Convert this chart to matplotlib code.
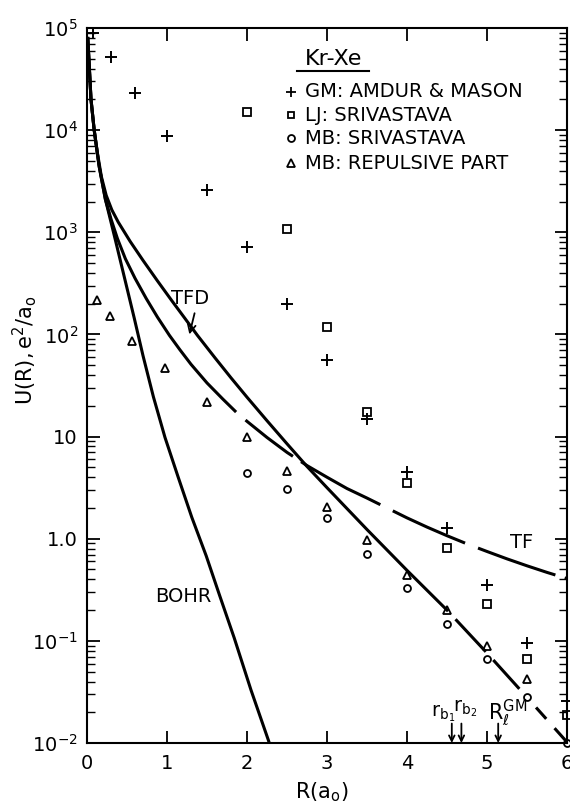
import numpy as np
import matplotlib.pyplot as plt
from matplotlib.ticker import FixedLocator, FixedFormatter, LogLocator, NullFormatter

plt.rcParams['font.family'] = ['DejaVu Sans']
plt.rcParams['mathtext.fontset'] = 'dejavusans'
plt.rcParams['lines.scale_dashes'] = False

# data points
r_gm = [0.08, 0.3, 0.6, 1.0, 1.5, 2.0, 2.5, 3.0, 3.5, 4.0, 4.5, 5.0, 5.5, 6.0]
u_gm = [8.9e4, 5.2e4, 2.3e4, 8.7e3, 2.6e3, 720, 200, 56, 15, 4.5, 1.26, 0.35, 0.096, 0.026]

r_lj = [2.0, 2.5, 3.0, 3.5, 4.0, 4.5, 5.0, 5.5, 6.0]
u_lj = [1.5e4, 1070, 118, 17.5, 3.5, 0.81, 0.23, 0.067, 0.019]

r_mb = [2.0, 2.5, 3.0, 3.5, 4.0, 4.5, 5.0, 5.5, 6.0]
u_mb = [4.4, 3.1, 1.6, 0.71, 0.33, 0.147, 0.066, 0.028, 0.0100]

r_rep = [0.12, 0.29, 0.56, 0.97, 1.5, 2.0, 2.5, 3.0, 3.5, 4.0, 4.5, 5.0, 5.5]
u_rep = [218, 150, 87, 47, 22, 10, 4.6, 2.05, 0.98, 0.44, 0.20, 0.089, 0.042]

# theoretical curves (read at points along each curve)
r_bohr = [0.01, 0.05, 0.09, 0.15, 0.23, 0.35, 0.47, 0.59, 0.70, 0.83, 0.975,
          1.14, 1.31, 1.49, 1.66, 1.84, 2.05, 2.27, 2.29]
u_bohr = [7.9e4, 2.0e4, 1.0e4, 4.5e3, 2.1e3, 870, 355, 145, 62, 24.5, 9.8,
          4.0, 1.62, 0.68, 0.275, 0.107, 0.033, 0.0105, 0.0093]

r_tf = np.array([0.01, 0.05, 0.09, 0.15, 0.23, 0.30, 0.38, 0.48, 0.60, 0.74,
                 0.88, 1.03, 1.16, 1.3, 1.5, 1.7, 1.85, 2.0, 2.25, 2.5,
                 2.75, 3.0, 3.25, 3.5, 3.75, 4.0, 4.25, 4.5, 4.75, 5.0,
                 5.25, 5.5, 5.75, 6.0])
u_tf = np.array([7.9e4, 2.0e4, 1.0e4, 4.5e3, 2.1e3, 1.35e3, 870, 550, 355, 225,
                 148, 98, 71, 51, 33.5, 23.2, 17.8, 14.1, 9.8, 7.0,
                 5.2, 4.0, 3.1, 2.5, 2.0, 1.6, 1.3, 1.07, 0.89, 0.75,
                 0.635, 0.543, 0.468, 0.407])

r_tfd = np.array([0.01, 0.05, 0.09, 0.13, 0.18, 0.24, 0.31, 0.39, 0.54, 0.70,
                  0.88, 1.06, 1.22, 1.38, 1.6, 1.8, 2.0, 2.25, 2.5, 2.75,
                  3.0, 3.5, 4.0, 4.5, 5.0, 5.5, 6.0])
u_tfd = np.array([7.9e4, 2.0e4, 1.0e4, 6.0e3, 3.5e3, 2.3e3, 1.66e3, 1.26e3, 813, 531,
                  335, 214, 145, 98, 59, 37.6, 24.3, 14.3, 8.5, 5.1,
                  3.16, 1.23, 0.49, 0.20, 0.076, 0.028, 0.0102])

# marked radii at the bottom axis
r_marks = [4.56, 4.68, 5.14]

y_ticks = [1e-2, 1e-1, 1, 10, 1e2, 1e3, 1e4, 1e5]
y_labels = [r'$\mathregular{10^{-2}}$', r'$\mathregular{10^{-1}}$', '1.0', '10',
            r'$\mathregular{10^{2}}$', r'$\mathregular{10^{3}}$',
            r'$\mathregular{10^{4}}$', r'$\mathregular{10^{5}}$']
x_ticks = [0, 1, 2, 3, 4, 5, 6]

fig = plt.figure(figsize=(5.7, 8.05), dpi=100)
ax = fig.add_axes([87 / 570, 62 / 805, 480 / 570, 715 / 805])

lw = 2.2
ax.plot(r_bohr, u_bohr, color='k', lw=lw)

# TF: solid at small R, long dashes beyond
tf_dash = (43, 7, 65, 10, 57, 10, 59, 7, 60, 10)
m = r_tf <= 1.85
ax.plot(r_tf[m], u_tf[m], color='k', lw=lw)
m = r_tf >= 1.85
ax.plot(r_tf[m], u_tf[m], color='k', lw=lw, linestyle=(sum(tf_dash) - 10, tf_dash))

# TFD: solid up to 4.5, dashed after
tfd_dash = (32, 8, 28, 18, 11, 9, 40, 9)
m = r_tfd <= 4.5
ax.plot(r_tfd[m], u_tfd[m], color='k', lw=lw)
m = r_tfd >= 4.5
ax.plot(r_tfd[m], u_tfd[m], color='k', lw=lw, linestyle=(sum(tfd_dash) - 9, tfd_dash))

mk = dict(color='k', linestyle='none', clip_on=False)
ax.plot(r_gm, u_gm, marker='+', ms=8, mew=1.4, **mk)
ax.plot(r_lj, u_lj, marker='s', ms=5.5, mew=1.3, mfc='none', **mk)
ax.plot(r_mb, u_mb, marker='o', ms=5, mew=1.3, mfc='none', **mk)
ax.plot(r_rep, u_rep, marker='^', ms=6, mew=1.3, mfc='none', **mk)

# legend block
ax.text(0.5135, 0.956, 'Kr-Xe', transform=ax.transAxes, ha='center', va='center',
        fontsize=16)
ax.plot([0.4375, 0.5875], [0.940, 0.940], transform=ax.transAxes, color='k', lw=1.5)
entries = [('+', 7, 'GM: AMDUR & MASON'),
           ('s', 4.5, 'LJ: SRIVASTAVA'),
           ('o', 5, 'MB: SRIVASTAVA'),
           ('^', 5.5, 'MB: REPULSIVE PART')]
rows = [0.9109, 0.8783, 0.8457, 0.8108]
for (mrk, ms, txt), yy in zip(entries, rows):
    ax.plot([0.426], [yy], marker=mrk, ms=ms, mew=1.3, mfc='none',
            color='k', linestyle='none', transform=ax.transAxes)
    ax.text(0.454, yy, txt, transform=ax.transAxes, ha='left', va='center',
            fontsize=14)

# curve labels
ax.annotate('TFD', xy=(1.28, 100), xytext=(1.29, 226), ha='center', va='center',
            fontsize=14,
            arrowprops=dict(arrowstyle='->', lw=1.3, color='k', relpos=(0.65, 0),
                            shrinkA=2, shrinkB=0))
ax.text(5.43, 0.91, 'TF', ha='center', va='center', fontsize=14)
ax.text(1.21, 0.27, 'BOHR', ha='center', va='center', fontsize=14)

# marked radii
for r in r_marks:
    ax.annotate('', xy=(r, 0.0100), xytext=(r, 0.0155),
                arrowprops=dict(arrowstyle='->', lw=1.3, color='k',
                                shrinkA=0, shrinkB=0, mutation_scale=10))
ax.text(4.60, 0.0155, r'$\mathregular{r_{b_1}}$', ha='right', va='bottom', fontsize=14)
ax.text(4.575, 0.0172, r'$\mathregular{r_{b_2}}$', ha='left', va='bottom', fontsize=14)
ax.text(5.01, 0.0138, r'$\mathregular{R}_{\ell}^{\mathregular{GM}}$', ha='left',
        va='bottom', fontsize=15)

ax.set_yscale('log')
ax.set_xlim(0, 6)
ax.set_ylim(1e-2, 1e5)
ax.yaxis.set_major_locator(FixedLocator(y_ticks))
ax.yaxis.set_major_formatter(FixedFormatter(y_labels))
ax.yaxis.set_minor_locator(LogLocator(base=10, subs=np.arange(2, 10), numticks=20))
ax.yaxis.set_minor_formatter(NullFormatter())
ax.set_xticks(x_ticks)
ax.set_xticklabels([str(t) for t in x_ticks])

ax.tick_params(which='major', direction='in', length=9, width=1.3, labelsize=14)
ax.tick_params(which='minor', direction='in', length=5.5, width=1.0)
ax.tick_params(axis='y', which='both', right=True, pad=6.5)
ax.tick_params(axis='x', which='major', top=True, pad=8)
for s in ax.spines.values():
    s.set_linewidth(1.5)

ax.set_ylabel(r'$\mathregular{U(R),e^2/a_o}$', fontsize=15)
ax.yaxis.set_label_coords(-0.10, 0.55)
ax.set_xlabel(r'$\mathregular{R(a_o)}$', fontsize=15)
ax.xaxis.set_label_coords(0.49, -0.052)

fig.savefig('out.png', dpi=100)
